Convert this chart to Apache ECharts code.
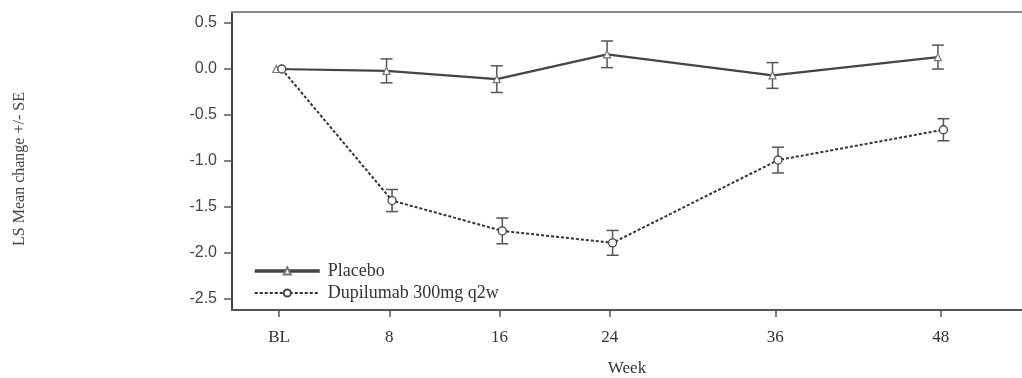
<!DOCTYPE html>
<html><head><meta charset="utf-8">
<script src="https://cdn.jsdelivr.net/npm/echarts@6/dist/echarts.min.js"></script>
<style>html,body{margin:0;padding:0;background:#fff}#c{width:1022px;height:378px}</style>
</head><body><div id="c"></div>
<script>
const weeks = [0, 8, 16, 24, 36, 48];
const weekLabels = ['BL', '8', '16', '24', '36', '48'];
const placeboMean = [0.0, -0.02, -0.11, 0.16, -0.07, 0.13];
const placeboSE   = [0.0, 0.13, 0.145, 0.145, 0.14, 0.13];
const dupiMean = [0.0, -1.43, -1.76, -1.89, -0.99, -0.66];
const dupiSE   = [0.0, 0.12, 0.14, 0.135, 0.14, 0.12];
const yTicks = [-2.5, -2.0, -1.5, -1.0, -0.5, 0.0, 0.5];
const seriesNames = ['Placebo', 'Dupilumab 300mg q2w'];

const jitter = 0.2;
const serif = '"Liberation Serif", "DejaVu Serif", serif';
const sans = '"Liberation Sans", Arial, sans-serif';

function pts(mean, off){ return weeks.map((w,i)=>[w+off, mean[i]]); }
function errs(mean, se, off){ return weeks.map((w,i)=>[w+off, mean[i]-se[i], mean[i]+se[i]]).filter((d,i)=>se[i]>0); }

function errRender(params, api){
  const x = api.value(0), lo = api.value(1), hi = api.value(2);
  const pLo = api.coord([x, lo]), pHi = api.coord([x, hi]);
  const cap = 6;
  const st = {stroke:'#555', lineWidth:1.5};
  return {type:'group', children:[
    {type:'line', shape:{x1:pLo[0],y1:pLo[1],x2:pHi[0],y2:pHi[1]}, style:st},
    {type:'line', shape:{x1:pLo[0]-cap,y1:pLo[1],x2:pLo[0]+cap,y2:pLo[1]}, style:st},
    {type:'line', shape:{x1:pHi[0]-cap,y1:pHi[1],x2:pHi[0]+cap,y2:pHi[1]}, style:st}
  ]};
}

const chart = echarts.init(document.getElementById('c'), null, {renderer:'canvas'});
chart.setOption({
  animation:false,
  backgroundColor:'#fff',
  grid:{left:232, top:12, right:0, bottom:68, containLabel:false, outerBoundsMode:'none'},
  legend:{
    data:[
      {name:seriesNames[0], lineStyle:{width:3.5, color:'#444'}},
      {name:seriesNames[1]}
    ],
    orient:'vertical', left:248, top:256,
    itemWidth:65, itemHeight:9, itemGap:2,
    textStyle:{fontFamily:serif, fontSize:18, color:'#333', lineHeight:20, padding:[0,0,0,3]}
  },
  graphic:[{
    type:'text', x:20, y:169, rotation:Math.PI/2,
    style:{text:'LS Mean change +/- SE', fontFamily:serif, fontSize:16, fill:'#444',
      align:'center', verticalAlign:'middle'}
  }],
  xAxis:[{
    type:'value', min:-3.41, max:53.9,
    name:'Week', nameLocation:'middle', nameGap:50,
    nameTextStyle:{fontFamily:serif, fontSize:17, color:'#333'},
    axisLine:{show:true, onZero:false, lineStyle:{color:'#555', width:2}},
    axisTick:{show:true, customValues:weeks, length:7, lineStyle:{color:'#555', width:1.5}},
    axisLabel:{customValues:weeks, margin:19, fontFamily:serif, fontSize:17, color:'#333',
      formatter:v=>{const i=weeks.indexOf(v); return i>=0?weekLabels[i]:'';}},
    splitLine:{show:false}
  },{
    type:'value', position:'top', min:-3.41, max:53.9,
    axisLine:{show:true, onZero:false, lineStyle:{color:'#888', width:2}},
    axisTick:{show:false}, axisLabel:{show:false}, splitLine:{show:false}
  }],
  yAxis:{
    type:'value', min:-2.62, max:0.62,
    axisLine:{show:true, onZero:false, lineStyle:{color:'#444', width:2}},
    axisTick:{show:true, customValues:yTicks, length:8, lineStyle:{color:'#555', width:1.5}},
    axisLabel:{customValues:yTicks, margin:15, fontFamily:sans, fontSize:16, color:'#444',
      formatter:v=>v.toFixed(1)},
    splitLine:{show:false}
  },
  series:[
    {type:'custom', renderItem:errRender, data:errs(placeboMean, placeboSE, -jitter), z:3, silent:true},
    {type:'custom', renderItem:errRender, data:errs(dupiMean, dupiSE, jitter), z:3, silent:true},
    {name:seriesNames[0], type:'line', data:pts(placeboMean, -jitter),
      symbol:'triangle', symbolSize:7,
      lineStyle:{color:'#444', width:2.2},
      itemStyle:{color:'#fff', borderColor:'#777', borderWidth:1.2}, z:4},
    {name:seriesNames[1], type:'line', data:pts(dupiMean, jitter),
      symbol:'circle', symbolSize:8,
      lineStyle:{color:'#333', width:2, type:[3,2]},
      itemStyle:{color:'#fff', borderColor:'#444', borderWidth:1.3}, z:4}
  ]
});
</script></body></html>
